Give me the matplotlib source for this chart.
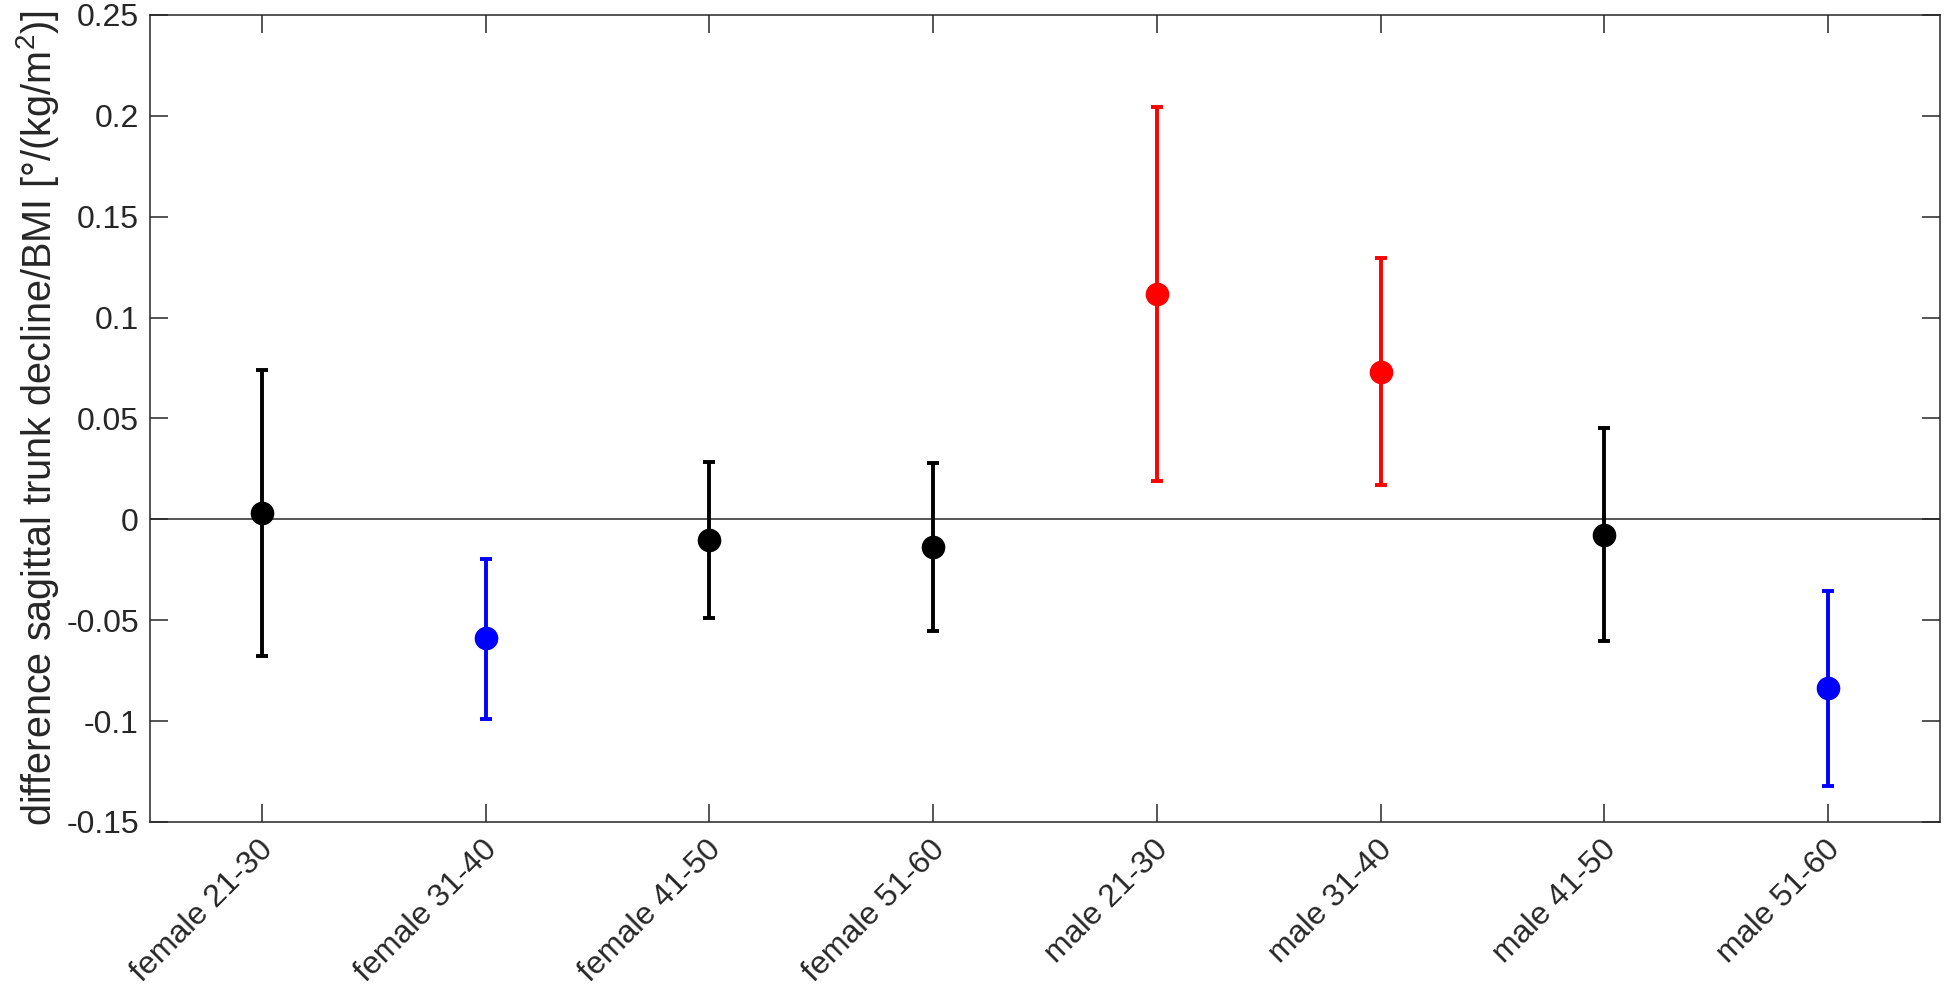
import matplotlib.pyplot as plt
import matplotlib.transforms as mtransforms
import numpy as np

plt.rcParams["font.family"] = ["Liberation Sans", "DejaVu Sans"]
plt.rcParams["mathtext.fontset"] = "custom"
plt.rcParams["mathtext.rm"] = "Liberation Sans"
plt.rcParams["mathtext.default"] = "regular"

# Data
groups = ["female 21-30", "female 31-40", "female 41-50", "female 51-60",
          "male 21-30", "male 31-40", "male 41-50", "male 51-60"]
means = [0.003, -0.059, -0.0102, -0.0138, 0.1116, 0.0732, -0.0077, -0.0834]
upper = [0.074, -0.0195, 0.0285, 0.0278, 0.2043, 0.1297, 0.0451, -0.0353]
lower = [-0.0677, -0.099, -0.0489, -0.0553, 0.0192, 0.0169, -0.0601, -0.1321]
colors = ["black", "blue", "black", "black", "red", "red", "black", "blue"]

x = np.arange(1, len(groups) + 1)
axis_color = "#262626"

fig = plt.figure(figsize=(19.46, 10.05), dpi=100)
ax = fig.add_axes([0.0771, 0.1821, 0.9198, 0.8030])

# zero reference line
ax.axhline(0, color="#3a3a3a", linewidth=1.2, zorder=1)

for xi, m, lo, hi, c in zip(x, means, lower, upper, colors):
    ax.errorbar(xi, m, yerr=[[m - lo], [hi - m]], fmt="o", color=c,
                markersize=16, elinewidth=2.8, capsize=4, capthick=2.8,
                zorder=3)

ax.set_xlim(0.5, 8.5)
ax.set_ylim(-0.15, 0.25)
ax.set_xticks(x)
ax.set_xticklabels(groups, rotation=45, ha="right", va="center",
                   rotation_mode="anchor")
ax.set_yticks([-0.15, -0.1, -0.05, 0, 0.05, 0.1, 0.15, 0.2, 0.25])
ax.set_yticklabels(["-0.15", "-0.1", "-0.05", "0", "0.05", "0.1", "0.15",
                    "0.2", "0.25"])

ax.tick_params(axis="both", direction="in", length=13, width=1.1,
               colors=axis_color, labelsize=23, top=True, right=True)
ax.tick_params(axis="x", pad=17)
ax.tick_params(axis="y", pad=8)
for s in ax.spines.values():
    s.set_color(axis_color)
    s.set_linewidth(1.1)

# nudge rotated labels a little to the right, as in the original
shift = mtransforms.ScaledTranslation(7 / 100, 0, fig.dpi_scale_trans)
for lab in ax.get_xticklabels():
    lab.set_transform(lab.get_transform() + shift)

ax.set_ylabel(r"difference sagittal trunk decline/BMI [°/(kg/m$^{2}$)]",
              fontsize=28.5, color=axis_color, labelpad=4)

plt.savefig("out.png", dpi=100)
